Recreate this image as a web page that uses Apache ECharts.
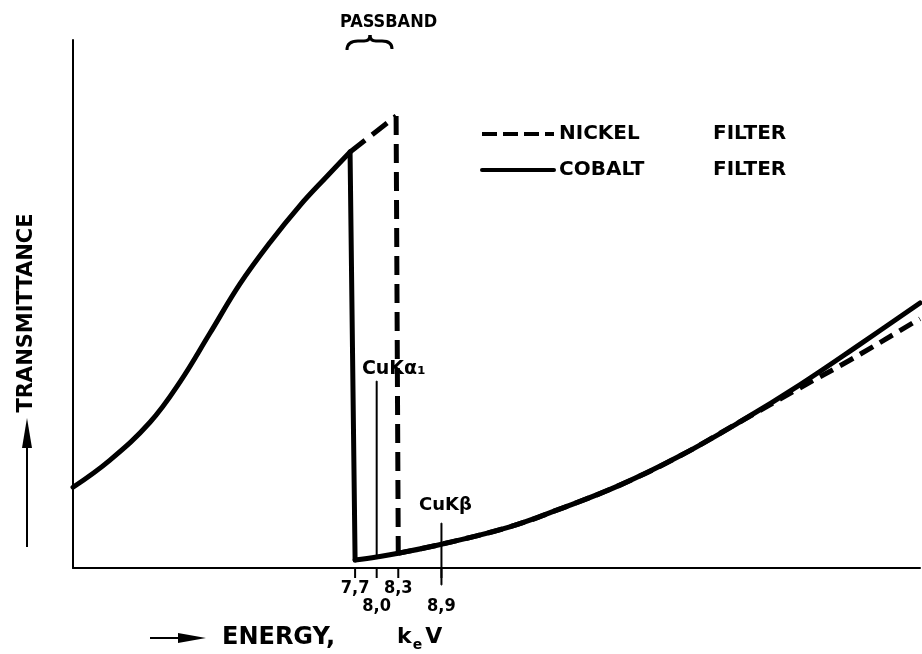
<!DOCTYPE html>
<html>
<head>
<meta charset="utf-8">
<title>Transmittance of Nickel and Cobalt filters</title>
<script src="https://cdn.jsdelivr.net/npm/echarts@6/dist/echarts.min.js"></script>
<style>
  html, body { margin: 0; padding: 0; background: #fff; }
  #chart { width: 922px; height: 654px; }
</style>
</head>
<body>
<div id="chart"></div>
<script>
// Energy (keV) and relative transmittance.
const cobaltLowEnergy  = [3.78, 4.29, 4.85, 5.27, 5.68, 6.10, 6.52, 6.93, 7.31, 7.63];
const cobaltLowTrans   = [15.3, 20.4, 27.6, 35.3, 44.4, 53.8, 61.7, 68.6, 74.2, 78.8];
const cobaltEdgeEnergy = [7.63, 7.70];
const cobaltEdgeTrans  = [78.8, 1.5];
const cobaltHighEnergy = [7.70, 8.0, 8.3, 8.9, 9.85, 10.55, 11.38, 12.21, 13.05, 13.88, 14.72, 15.55];
const cobaltHighTrans  = [1.5, 2.1, 2.8, 4.5, 7.8, 11.2, 15.7, 21.2, 27.7, 34.7, 42.4, 50.2];

const nickelLowEnergy  = [7.63, 8.27];
const nickelLowTrans   = [78.8, 85.6];
const nickelEdgeEnergy = [8.27, 8.30];
const nickelEdgeTrans  = [85.6, 2.8];
const nickelHighEnergy = [8.3, 8.9, 9.85, 10.55, 11.38, 12.21, 13.05, 13.88, 14.58, 15.45, 15.55];
const nickelHighTrans  = [2.8, 4.5, 7.8, 11.2, 15.7, 21.2, 27.7, 34.1, 39.4, 46.4, 47.2];

// Copper emission lines
const cuKAlphaEnergy = 8.0;
const cuKAlphaSpan   = [2.1, 35.4];
const cuKBetaEnergy  = 8.9;
const cuKBetaSpan    = [-3.2, 8.5];

// Marked energies on the axis (the second group is lettered one row lower)
const tickEnergies = [7.7, 8.0, 8.3, 8.9];
const lowerTickLabels = [8.0, 8.9];

const xMin = 3.78, xMax = 15.55;
const FONT = "'DejaVu Sans', sans-serif";
const FONT_NARROW = "'DejaVu Sans Condensed', 'DejaVu Sans', sans-serif";

function zip(xs, ys) { return xs.map((x, i) => [x, ys[i]]); }
function isLower(v) { return lowerTickLabels.some(t => Math.abs(t - v) < 1e-6); }

const chart = echarts.init(document.getElementById('chart'), null, { renderer: 'canvas' });

const solid = { color: '#000', width: 5, type: 'solid', cap: 'round', join: 'round' };
const dashed = { color: '#000', width: 5, type: [19, 9], cap: 'butt', join: 'round' };

// brace over the passband, built from short curve pieces
const braceStyle = { stroke: '#000', lineWidth: 3, fill: null };
const brace = [
  { type: 'bezierCurve', shape: { x1: 347, y1: 50, cpx1: 347, cpy1: 41, x2: 358, y2: 41 } },
  { type: 'line', shape: { x1: 358, y1: 41, x2: 364, y2: 41 } },
  { type: 'bezierCurve', shape: { x1: 364, y1: 41, cpx1: 370, cpy1: 41, x2: 370, y2: 35 } },
  { type: 'bezierCurve', shape: { x1: 370, y1: 35, cpx1: 370, cpy1: 41, x2: 376, y2: 41 } },
  { type: 'line', shape: { x1: 376, y1: 41, x2: 382, y2: 41 } },
  { type: 'bezierCurve', shape: { x1: 382, y1: 41, cpx1: 392, cpy1: 41, x2: 392, y2: 49 } }
].map(el => Object.assign(el, { silent: true, style: braceStyle }));

const option = {
  backgroundColor: '#fff',
  animation: false,
  grid: { left: 73, right: 2, top: 40, bottom: 86, containLabel: false },
  xAxis: {
    type: 'value',
    min: xMin,
    max: xMax,
    splitLine: { show: false },
    axisLine: { show: true, onZero: false, lineStyle: { color: '#000', width: 2 } },
    axisTick: { show: false },
    axisLabel: { show: false }
  },
  yAxis: {
    type: 'value',
    min: 0,
    max: 100,
    splitLine: { show: false },
    axisLine: { show: true, lineStyle: { color: '#000', width: 2 } },
    axisTick: { show: false },
    axisLabel: { show: false }
  },
  legend: {
    orient: 'vertical',
    left: 475,
    top: 119,
    selectedMode: false,
    itemWidth: 72,
    itemHeight: 20,
    itemGap: 16,
    itemStyle: { opacity: 0, borderWidth: 0 },
    data: [
      { name: 'NICKEL FILTER', lineStyle: { type: [15, 6], width: 4, color: '#000' } },
      { name: 'COBALT FILTER', lineStyle: { type: 'solid', width: 4, color: '#000' } }
    ],
    formatter: function (name) {
      const parts = name.split(' ');
      return '{a|' + parts[0] + '}{b|' + parts[1] + '}';
    },
    textStyle: {
      color: '#000',
      fontFamily: FONT,
      fontWeight: 'bold',
      fontSize: 20,
      lineHeight: 20,
      rich: {
        a: { width: 154, color: '#000', fontFamily: FONT, fontWeight: 'bold', fontSize: 20, lineHeight: 20 },
        b: { color: '#000', fontFamily: FONT, fontWeight: 'bold', fontSize: 20, lineHeight: 20 }
      }
    }
  },
  series: [
    { name: 'COBALT FILTER', type: 'line', data: zip(cobaltLowEnergy, cobaltLowTrans), smooth: 0.4,
      symbol: 'none', itemStyle: { color: '#000' }, lineStyle: solid, z: 3, emphasis: { disabled: true } },
    { name: 'COBALT FILTER', type: 'line', data: zip(cobaltEdgeEnergy, cobaltEdgeTrans),
      symbol: 'none', itemStyle: { color: '#000' }, lineStyle: solid, z: 3, emphasis: { disabled: true } },
    { name: 'COBALT FILTER', type: 'line', data: zip(cobaltHighEnergy, cobaltHighTrans), smooth: 0.4,
      symbol: 'none', itemStyle: { color: '#000' }, lineStyle: solid, z: 3, emphasis: { disabled: true } },
    { name: 'NICKEL FILTER', type: 'line', data: zip(nickelLowEnergy, nickelLowTrans),
      symbol: 'none', itemStyle: { color: '#000' }, lineStyle: dashed, z: 2, emphasis: { disabled: true } },
    { name: 'NICKEL FILTER', type: 'line', data: zip(nickelEdgeEnergy, nickelEdgeTrans),
      symbol: 'none', itemStyle: { color: '#000' }, lineStyle: dashed, z: 2, emphasis: { disabled: true } },
    { name: 'NICKEL FILTER', type: 'line', data: zip(nickelHighEnergy, nickelHighTrans), smooth: 0.4,
      symbol: 'none', itemStyle: { color: '#000' }, lineStyle: Object.assign({}, dashed, { type: [15, 8] }),
      z: 2, emphasis: { disabled: true } },
    // copper Kα1 line
    { name: 'CuKα1', type: 'line', clip: false, silent: true,
      data: [
        [cuKAlphaEnergy, cuKAlphaSpan[0]],
        { value: [cuKAlphaEnergy, cuKAlphaSpan[1]],
          label: { show: true, position: 'top', distance: 2, offset: [17, 0], formatter: 'CuKα₁',
                   color: '#000', fontFamily: FONT, fontWeight: 'bold', fontSize: 19 } }
      ],
      symbol: 'circle', symbolSize: 1, showSymbol: true, itemStyle: { color: '#000' },
      lineStyle: { color: '#000', width: 2 }, z: 4, emphasis: { disabled: true } },
    // copper Kβ line
    { name: 'CuKβ', type: 'line', clip: false, silent: true,
      data: [
        [cuKBetaEnergy, cuKBetaSpan[0]],
        { value: [cuKBetaEnergy, cuKBetaSpan[1]],
          label: { show: true, position: 'top', distance: 8, offset: [4, 0], formatter: 'CuKβ',
                   color: '#000', fontFamily: FONT, fontWeight: 'bold', fontSize: 18 } }
      ],
      symbol: 'circle', symbolSize: 1, showSymbol: true, itemStyle: { color: '#000' },
      lineStyle: { color: '#000', width: 2 }, z: 4, emphasis: { disabled: true } },
    // energy ticks with their labels under the axis
    { name: 'ticks', type: 'scatter', clip: false, silent: true,
      data: tickEnergies.map(e => ({
        value: [e, 0],
        label: { distance: isLower(e) ? 19 : 1 }
      })),
      symbol: 'rect', symbolSize: [2, 10], symbolOffset: [0, 5],
      itemStyle: { color: '#000', opacity: 1 },
      label: {
        show: true, position: 'bottom', opacity: 1,
        color: '#000', fontFamily: FONT_NARROW, fontWeight: 'bold', fontSize: 18,
        formatter: p => p.value[0].toFixed(1).replace('.', ',')
      },
      z: 4, emphasis: { disabled: true } }
  ],
  graphic: [
    // passband heading
    { type: 'text', x: 340, y: 13,
      style: { text: 'PASSBAND', fill: '#000', font: "bold 18px 'DejaVu Sans Condensed', 'DejaVu Sans', sans-serif" } },
    // vertical axis title with arrow
    { type: 'text', x: 27, y: 313, rotation: Math.PI / 2,
      style: { text: 'TRANSMITTANCE', fill: '#000', align: 'center', verticalAlign: 'middle',
               font: "bold 21px 'DejaVu Sans', sans-serif" } },
    { type: 'line', silent: true, shape: { x1: 27, y1: 547, x2: 27, y2: 440 },
      style: { stroke: '#000', lineWidth: 2 } },
    { type: 'polygon', silent: true, shape: { points: [[27, 418], [22, 448], [32, 448]] },
      style: { fill: '#000' } },
    // horizontal axis title with arrow
    { type: 'line', silent: true, shape: { x1: 150, y1: 638, x2: 190, y2: 638 },
      style: { stroke: '#000', lineWidth: 2 } },
    { type: 'polygon', silent: true, shape: { points: [[206, 638], [178, 633], [178, 643]] },
      style: { fill: '#000' } },
    { type: 'text', x: 222, y: 638,
      style: { text: 'ENERGY,', fill: '#000', verticalAlign: 'middle',
               font: "bold 24px 'DejaVu Sans', sans-serif" } },
    { type: 'text', x: 397, y: 626,
      style: { text: '{m|k}{s|e}{m|V}', fill: '#000', verticalAlign: 'top',
               rich: {
                 m: { fontFamily: FONT, fontWeight: 'bold', fontSize: 22, lineHeight: 26, verticalAlign: 'top' },
                 s: { fontFamily: FONT, fontWeight: 'bold', fontSize: 14, lineHeight: 14, verticalAlign: 'bottom', padding: [0, 3, 0, 1] }
               } } }
  ].concat(brace)
};

chart.setOption(option);
</script>
</body>
</html>
